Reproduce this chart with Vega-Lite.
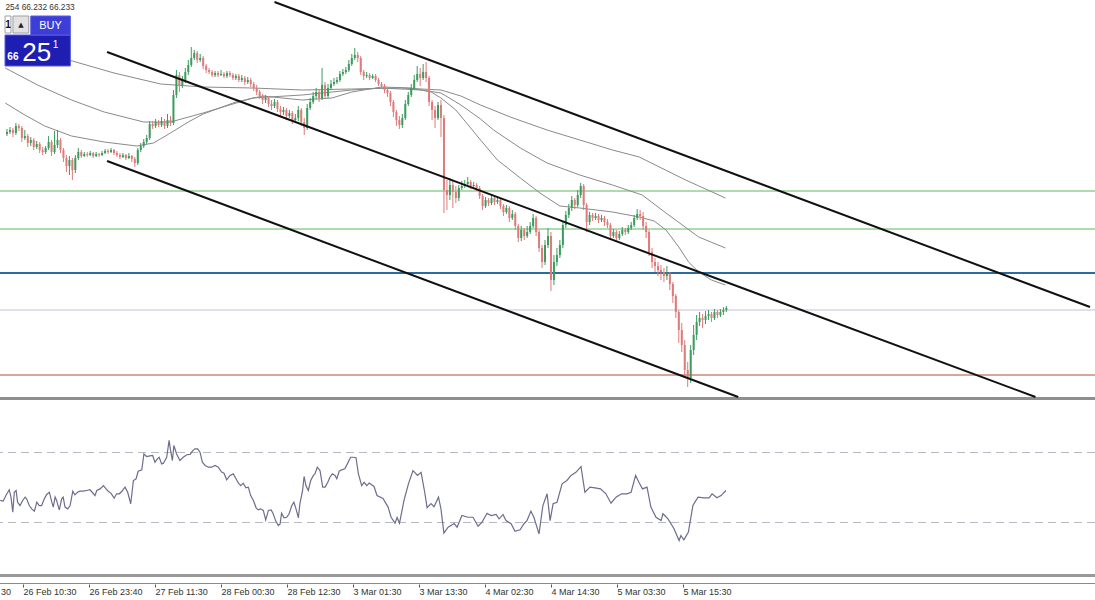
{
"$schema":"https://vega.github.io/schema/vega-lite/v6.json",
"padding":0,
"spacing":0,
"bounds":"flush",
"background":"white",
"config":{"view":{"stroke":null}},
"datasets":{
"candles":[
{"t":0,"o":68.66,"h":68.71,"l":68.64,"c":68.68},{"t":1,"o":68.68,"h":68.73,"l":68.66,"c":68.70},{"t":2,"o":68.70,"h":68.72,"l":68.63,"c":68.67},{"t":3,"o":68.67,"h":68.77,"l":68.65,"c":68.74},{"t":4,"o":68.74,"h":68.76,"l":68.69,"c":68.72},{"t":5,"o":68.72,"h":68.74,"l":68.58,"c":68.62},{"t":6,"o":68.62,"h":68.70,"l":68.60,"c":68.64},{"t":7,"o":68.64,"h":68.66,"l":68.53,"c":68.57},{"t":8,"o":68.57,"h":68.63,"l":68.54,"c":68.60},{"t":9,"o":68.60,"h":68.62,"l":68.50,"c":68.53},
{"t":10,"o":68.53,"h":68.59,"l":68.51,"c":68.56},{"t":11,"o":68.56,"h":68.58,"l":68.47,"c":68.50},{"t":12,"o":68.50,"h":68.53,"l":68.45,"c":68.48},{"t":13,"o":68.48,"h":68.54,"l":68.46,"c":68.52},{"t":14,"o":68.52,"h":68.64,"l":68.50,"c":68.58},{"t":15,"o":68.58,"h":68.60,"l":68.44,"c":68.48},{"t":16,"o":68.48,"h":68.69,"l":68.46,"c":68.55},{"t":17,"o":68.55,"h":68.70,"l":68.52,"c":68.60},{"t":18,"o":68.60,"h":68.62,"l":68.47,"c":68.50},{"t":19,"o":68.50,"h":68.52,"l":68.38,"c":68.42},
{"t":20,"o":68.42,"h":68.45,"l":68.28,"c":68.34},{"t":21,"o":68.34,"h":68.44,"l":68.25,"c":68.40},{"t":22,"o":68.40,"h":68.42,"l":68.20,"c":68.30},{"t":23,"o":68.30,"h":68.45,"l":68.27,"c":68.42},{"t":24,"o":68.42,"h":68.52,"l":68.40,"c":68.48},{"t":25,"o":68.48,"h":68.50,"l":68.42,"c":68.44},{"t":26,"o":68.44,"h":68.48,"l":68.43,"c":68.46},{"t":27,"o":68.46,"h":68.48,"l":68.43,"c":68.45},{"t":28,"o":68.45,"h":68.49,"l":68.44,"c":68.47},{"t":29,"o":68.47,"h":68.48,"l":68.42,"c":68.44},
{"t":30,"o":68.44,"h":68.48,"l":68.43,"c":68.46},{"t":31,"o":68.46,"h":68.47,"l":68.43,"c":68.45},{"t":32,"o":68.45,"h":68.49,"l":68.44,"c":68.47},{"t":33,"o":68.47,"h":68.51,"l":68.46,"c":68.49},{"t":34,"o":68.49,"h":68.51,"l":68.46,"c":68.48},{"t":35,"o":68.48,"h":68.52,"l":68.47,"c":68.50},{"t":36,"o":68.50,"h":68.51,"l":68.45,"c":68.47},{"t":37,"o":68.47,"h":68.49,"l":68.43,"c":68.45},{"t":38,"o":68.45,"h":68.47,"l":68.41,"c":68.43},{"t":39,"o":68.43,"h":68.47,"l":68.42,"c":68.45},
{"t":40,"o":68.45,"h":68.46,"l":68.40,"c":68.42},{"t":41,"o":68.42,"h":68.47,"l":68.41,"c":68.44},{"t":42,"o":68.44,"h":68.45,"l":68.38,"c":68.41},{"t":43,"o":68.41,"h":68.43,"l":68.33,"c":68.37},{"t":44,"o":68.37,"h":68.52,"l":68.35,"c":68.50},{"t":45,"o":68.50,"h":68.57,"l":68.48,"c":68.54},{"t":46,"o":68.54,"h":68.61,"l":68.52,"c":68.58},{"t":47,"o":68.58,"h":68.65,"l":68.56,"c":68.62},{"t":48,"o":68.62,"h":68.79,"l":68.60,"c":68.76},{"t":49,"o":68.76,"h":68.79,"l":68.71,"c":68.74},
{"t":50,"o":68.74,"h":68.81,"l":68.72,"c":68.78},{"t":51,"o":68.78,"h":68.80,"l":68.73,"c":68.75},{"t":52,"o":68.75,"h":68.83,"l":68.73,"c":68.79},{"t":53,"o":68.79,"h":68.81,"l":68.71,"c":68.74},{"t":54,"o":68.74,"h":68.86,"l":68.72,"c":68.80},{"t":55,"o":68.80,"h":68.84,"l":68.74,"c":68.77},{"t":56,"o":68.77,"h":69.10,"l":68.75,"c":69.05},{"t":57,"o":69.05,"h":69.30,"l":69.02,"c":69.25},{"t":58,"o":69.25,"h":69.28,"l":69.08,"c":69.15},{"t":59,"o":69.15,"h":69.24,"l":69.12,"c":69.20},
{"t":60,"o":69.20,"h":69.32,"l":69.17,"c":69.28},{"t":61,"o":69.28,"h":69.40,"l":69.25,"c":69.35},{"t":62,"o":69.35,"h":69.53,"l":69.33,"c":69.42},{"t":63,"o":69.42,"h":69.50,"l":69.40,"c":69.47},{"t":64,"o":69.47,"h":69.49,"l":69.37,"c":69.40},{"t":65,"o":69.40,"h":69.46,"l":69.38,"c":69.42},{"t":66,"o":69.42,"h":69.44,"l":69.31,"c":69.34},{"t":67,"o":69.34,"h":69.36,"l":69.27,"c":69.30},{"t":68,"o":69.30,"h":69.32,"l":69.26,"c":69.28},{"t":69,"o":69.28,"h":69.30,"l":69.23,"c":69.25},
{"t":70,"o":69.25,"h":69.29,"l":69.23,"c":69.27},{"t":71,"o":69.27,"h":69.29,"l":69.23,"c":69.25},{"t":72,"o":69.25,"h":69.30,"l":69.24,"c":69.26},{"t":73,"o":69.26,"h":69.28,"l":69.22,"c":69.24},{"t":74,"o":69.24,"h":69.29,"l":69.22,"c":69.27},{"t":75,"o":69.27,"h":69.29,"l":69.23,"c":69.25},{"t":76,"o":69.25,"h":69.27,"l":69.20,"c":69.22},{"t":77,"o":69.22,"h":69.26,"l":69.20,"c":69.24},{"t":78,"o":69.24,"h":69.26,"l":69.18,"c":69.20},{"t":79,"o":69.20,"h":69.25,"l":69.18,"c":69.22},
{"t":80,"o":69.22,"h":69.24,"l":69.15,"c":69.18},{"t":81,"o":69.18,"h":69.23,"l":69.16,"c":69.20},{"t":82,"o":69.20,"h":69.22,"l":69.13,"c":69.16},{"t":83,"o":69.16,"h":69.18,"l":69.09,"c":69.12},{"t":84,"o":69.12,"h":69.15,"l":69.05,"c":69.08},{"t":85,"o":69.08,"h":69.10,"l":69.01,"c":69.04},{"t":86,"o":69.04,"h":69.06,"l":68.96,"c":69.00},{"t":87,"o":69.00,"h":69.05,"l":68.97,"c":69.02},{"t":88,"o":69.02,"h":69.04,"l":68.93,"c":68.96},{"t":89,"o":68.96,"h":69.00,"l":68.90,"c":68.94},
{"t":90,"o":68.94,"h":69.01,"l":68.92,"c":68.98},{"t":91,"o":68.98,"h":69.00,"l":68.88,"c":68.91},{"t":92,"o":68.91,"h":68.94,"l":68.84,"c":68.88},{"t":93,"o":68.88,"h":68.93,"l":68.85,"c":68.90},{"t":94,"o":68.90,"h":68.92,"l":68.80,"c":68.84},{"t":95,"o":68.84,"h":68.90,"l":68.82,"c":68.87},{"t":96,"o":68.87,"h":68.89,"l":68.76,"c":68.80},{"t":97,"o":68.80,"h":68.86,"l":68.78,"c":68.82},{"t":98,"o":68.82,"h":68.94,"l":68.79,"c":68.90},{"t":99,"o":68.90,"h":68.92,"l":68.74,"c":68.78},
{"t":100,"o":68.78,"h":68.82,"l":68.65,"c":68.72},{"t":101,"o":68.72,"h":68.96,"l":68.70,"c":68.92},{"t":102,"o":68.92,"h":69.02,"l":68.90,"c":68.98},{"t":103,"o":68.98,"h":69.08,"l":68.96,"c":69.04},{"t":104,"o":69.04,"h":69.12,"l":69.01,"c":69.08},{"t":105,"o":69.08,"h":69.10,"l":68.98,"c":69.02},{"t":106,"o":69.02,"h":69.32,"l":69.00,"c":69.15},{"t":107,"o":69.15,"h":69.18,"l":69.01,"c":69.04},{"t":108,"o":69.04,"h":69.16,"l":69.02,"c":69.12},{"t":109,"o":69.12,"h":69.20,"l":69.10,"c":69.16},
{"t":110,"o":69.16,"h":69.22,"l":69.14,"c":69.18},{"t":111,"o":69.18,"h":69.23,"l":69.16,"c":69.20},{"t":112,"o":69.20,"h":69.29,"l":69.18,"c":69.26},{"t":113,"o":69.26,"h":69.31,"l":69.24,"c":69.28},{"t":114,"o":69.28,"h":69.33,"l":69.26,"c":69.30},{"t":115,"o":69.30,"h":69.40,"l":69.28,"c":69.36},{"t":116,"o":69.36,"h":69.46,"l":69.34,"c":69.42},{"t":117,"o":69.42,"h":69.52,"l":69.40,"c":69.45},{"t":118,"o":69.45,"h":69.48,"l":69.38,"c":69.42},{"t":119,"o":69.42,"h":69.44,"l":69.25,"c":69.28},
{"t":120,"o":69.28,"h":69.30,"l":69.20,"c":69.24},{"t":121,"o":69.24,"h":69.28,"l":69.22,"c":69.25},{"t":122,"o":69.25,"h":69.27,"l":69.20,"c":69.22},{"t":123,"o":69.22,"h":69.26,"l":69.21,"c":69.24},{"t":124,"o":69.24,"h":69.26,"l":69.18,"c":69.20},{"t":125,"o":69.20,"h":69.22,"l":69.14,"c":69.16},{"t":126,"o":69.16,"h":69.18,"l":69.11,"c":69.14},{"t":127,"o":69.14,"h":69.16,"l":69.07,"c":69.10},{"t":128,"o":69.10,"h":69.12,"l":69.03,"c":69.07},{"t":129,"o":69.07,"h":69.09,"l":68.94,"c":68.98},
{"t":130,"o":68.98,"h":69.00,"l":68.83,"c":68.88},{"t":131,"o":68.88,"h":68.90,"l":68.74,"c":68.80},{"t":132,"o":68.80,"h":68.84,"l":68.71,"c":68.75},{"t":133,"o":68.75,"h":68.86,"l":68.72,"c":68.82},{"t":134,"o":68.82,"h":69.00,"l":68.80,"c":68.96},{"t":135,"o":68.96,"h":69.08,"l":68.94,"c":69.05},{"t":136,"o":69.05,"h":69.16,"l":69.03,"c":69.12},{"t":137,"o":69.12,"h":69.25,"l":69.10,"c":69.20},{"t":138,"o":69.20,"h":69.34,"l":69.18,"c":69.26},{"t":139,"o":69.26,"h":69.32,"l":69.14,"c":69.22},
{"t":140,"o":69.22,"h":69.36,"l":69.20,"c":69.28},{"t":141,"o":69.28,"h":69.38,"l":69.18,"c":69.22},{"t":142,"o":69.22,"h":69.24,"l":68.94,"c":68.98},{"t":143,"o":68.98,"h":69.00,"l":68.80,"c":68.90},{"t":144,"o":68.90,"h":68.94,"l":68.72,"c":68.82},{"t":145,"o":68.82,"h":68.98,"l":68.80,"c":68.95},{"t":146,"o":68.95,"h":69.00,"l":68.63,"c":68.82},{"t":147,"o":68.82,"h":68.85,"l":67.87,"c":68.10},{"t":148,"o":68.10,"h":68.20,"l":67.90,"c":68.05},{"t":149,"o":68.05,"h":68.22,"l":68.00,"c":68.15},
{"t":150,"o":68.15,"h":68.20,"l":67.92,"c":68.08},{"t":151,"o":68.08,"h":68.14,"l":67.97,"c":68.02},{"t":152,"o":68.02,"h":68.15,"l":67.99,"c":68.12},{"t":153,"o":68.12,"h":68.19,"l":68.10,"c":68.14},{"t":154,"o":68.14,"h":68.20,"l":68.12,"c":68.16},{"t":155,"o":68.16,"h":68.23,"l":68.14,"c":68.18},{"t":156,"o":68.18,"h":68.20,"l":68.11,"c":68.14},{"t":157,"o":68.14,"h":68.18,"l":68.12,"c":68.15},{"t":158,"o":68.15,"h":68.17,"l":68.09,"c":68.12},{"t":159,"o":68.12,"h":68.14,"l":68.01,"c":68.04},
{"t":160,"o":68.04,"h":68.06,"l":67.90,"c":67.94},{"t":161,"o":67.94,"h":68.03,"l":67.92,"c":68.00},{"t":162,"o":68.00,"h":68.02,"l":67.94,"c":67.97},{"t":163,"o":67.97,"h":68.06,"l":67.95,"c":68.02},{"t":164,"o":68.02,"h":68.04,"l":67.95,"c":67.98},{"t":165,"o":67.98,"h":68.04,"l":67.96,"c":68.00},{"t":166,"o":68.00,"h":68.02,"l":67.91,"c":67.94},{"t":167,"o":67.94,"h":67.96,"l":67.84,"c":67.88},{"t":168,"o":67.88,"h":67.95,"l":67.86,"c":67.92},{"t":169,"o":67.92,"h":67.94,"l":67.78,"c":67.82},
{"t":170,"o":67.82,"h":67.90,"l":67.80,"c":67.86},{"t":171,"o":67.86,"h":67.88,"l":67.70,"c":67.74},{"t":172,"o":67.74,"h":67.76,"l":67.58,"c":67.62},{"t":173,"o":67.62,"h":67.74,"l":67.59,"c":67.70},{"t":174,"o":67.70,"h":67.72,"l":67.60,"c":67.64},{"t":175,"o":67.64,"h":67.74,"l":67.62,"c":67.68},{"t":176,"o":67.68,"h":67.78,"l":67.66,"c":67.74},{"t":177,"o":67.74,"h":67.86,"l":67.72,"c":67.82},{"t":178,"o":67.82,"h":67.84,"l":67.64,"c":67.68},{"t":179,"o":67.68,"h":67.70,"l":67.48,"c":67.52},
{"t":180,"o":67.52,"h":67.55,"l":67.32,"c":67.38},{"t":181,"o":67.38,"h":67.60,"l":67.35,"c":67.55},{"t":182,"o":67.55,"h":67.72,"l":67.52,"c":67.64},{"t":183,"o":67.64,"h":67.68,"l":67.09,"c":67.20},{"t":184,"o":67.20,"h":67.45,"l":67.15,"c":67.38},{"t":185,"o":67.38,"h":67.52,"l":67.34,"c":67.45},{"t":186,"o":67.45,"h":67.60,"l":67.42,"c":67.55},{"t":187,"o":67.55,"h":67.78,"l":67.52,"c":67.75},{"t":188,"o":67.75,"h":67.89,"l":67.72,"c":67.85},{"t":189,"o":67.85,"h":67.96,"l":67.82,"c":67.92},
{"t":190,"o":67.92,"h":68.04,"l":67.89,"c":68.00},{"t":191,"o":68.00,"h":68.02,"l":67.91,"c":67.95},{"t":192,"o":67.95,"h":68.10,"l":67.93,"c":68.05},{"t":193,"o":68.05,"h":68.17,"l":68.02,"c":68.14},{"t":194,"o":68.14,"h":68.16,"l":67.90,"c":67.95},{"t":195,"o":67.95,"h":67.97,"l":67.68,"c":67.78},{"t":196,"o":67.78,"h":67.88,"l":67.75,"c":67.85},{"t":197,"o":67.85,"h":67.87,"l":67.79,"c":67.82},{"t":198,"o":67.82,"h":67.87,"l":67.80,"c":67.84},{"t":199,"o":67.84,"h":67.86,"l":67.77,"c":67.80},
{"t":200,"o":67.80,"h":67.85,"l":67.78,"c":67.82},{"t":201,"o":67.82,"h":67.84,"l":67.74,"c":67.78},{"t":202,"o":67.78,"h":67.81,"l":67.72,"c":67.75},{"t":203,"o":67.75,"h":67.77,"l":67.60,"c":67.64},{"t":204,"o":67.64,"h":67.71,"l":67.62,"c":67.68},{"t":205,"o":67.68,"h":67.70,"l":67.58,"c":67.62},{"t":206,"o":67.62,"h":67.69,"l":67.60,"c":67.66},{"t":207,"o":67.66,"h":67.73,"l":67.64,"c":67.70},{"t":208,"o":67.70,"h":67.72,"l":67.65,"c":67.68},{"t":209,"o":67.68,"h":67.75,"l":67.66,"c":67.72},
{"t":210,"o":67.72,"h":67.78,"l":67.70,"c":67.75},{"t":211,"o":67.75,"h":67.85,"l":67.73,"c":67.82},{"t":212,"o":67.82,"h":67.91,"l":67.80,"c":67.86},{"t":213,"o":67.86,"h":67.90,"l":67.80,"c":67.84},{"t":214,"o":67.84,"h":67.88,"l":67.70,"c":67.74},{"t":215,"o":67.74,"h":67.78,"l":67.62,"c":67.68},{"t":216,"o":67.68,"h":67.70,"l":67.44,"c":67.48},{"t":217,"o":67.48,"h":67.52,"l":67.32,"c":67.38},{"t":218,"o":67.38,"h":67.42,"l":67.28,"c":67.34},{"t":219,"o":67.34,"h":67.38,"l":67.24,"c":67.30},
{"t":220,"o":67.30,"h":67.35,"l":67.20,"c":67.28},{"t":221,"o":67.28,"h":67.32,"l":67.18,"c":67.24},{"t":222,"o":67.24,"h":67.34,"l":67.20,"c":67.26},{"t":223,"o":67.26,"h":67.28,"l":67.10,"c":67.16},{"t":224,"o":67.16,"h":67.18,"l":66.97,"c":67.04},{"t":225,"o":67.04,"h":67.06,"l":66.82,"c":66.88},{"t":226,"o":66.88,"h":66.90,"l":66.57,"c":66.70},{"t":227,"o":66.70,"h":66.77,"l":66.48,"c":66.55},{"t":228,"o":66.55,"h":66.60,"l":66.24,"c":66.30},{"t":229,"o":66.30,"h":66.38,"l":66.13,"c":66.22},
{"t":230,"o":66.22,"h":66.55,"l":66.17,"c":66.50},{"t":231,"o":66.50,"h":66.75,"l":66.45,"c":66.65},{"t":232,"o":66.65,"h":66.85,"l":66.60,"c":66.78},{"t":233,"o":66.78,"h":66.88,"l":66.74,"c":66.82},{"t":234,"o":66.82,"h":66.86,"l":66.72,"c":66.80},{"t":235,"o":66.80,"h":66.89,"l":66.76,"c":66.84},{"t":236,"o":66.84,"h":66.90,"l":66.80,"c":66.86},{"t":237,"o":66.86,"h":66.88,"l":66.78,"c":66.82},{"t":238,"o":66.82,"h":66.91,"l":66.80,"c":66.88},{"t":239,"o":66.88,"h":66.90,"l":66.82,"c":66.85},
{"t":240,"o":66.85,"h":66.91,"l":66.83,"c":66.88},{"t":241,"o":66.88,"h":66.93,"l":66.85,"c":66.90},{"t":242,"o":66.90,"h":66.94,"l":66.88,"c":66.92}
],
"ma":[
{"t":-0.6,"p":68.97,"k":"fast"},{"t":6,"p":68.85,"k":"fast"},{"t":12.7,"p":68.74,"k":"fast"},{"t":21.7,"p":68.64,"k":"fast"},{"t":32.7,"p":68.58,"k":"fast"},{"t":43.7,"p":68.54,"k":"fast"},{"t":49.3,"p":68.57,"k":"fast"},{"t":55,"p":68.67,"k":"fast"},{"t":61,"p":68.78,"k":"fast"},{"t":66,"p":68.86,"k":"fast"},{"t":77,"p":68.98,"k":"fast"},{"t":86,"p":69.04,"k":"fast"},{"t":99.3,"p":69.00,"k":"fast"},{"t":109.3,"p":69.02,"k":"fast"},{"t":116,"p":69.08,"k":"fast"},{"t":126,"p":69.13,"k":"fast"},{"t":136,"p":69.12,"k":"fast"},{"t":142.7,"p":69.08,"k":"fast"},{"t":146,"p":69.02,"k":"fast"},{"t":151,"p":68.90,"k":"fast"},{"t":156,"p":68.72,"k":"fast"},{"t":159.3,"p":68.60,"k":"fast"},{"t":165,"p":68.40,"k":"fast"},{"t":172.7,"p":68.22,"k":"fast"},{"t":179.3,"p":68.07,"k":"fast"},{"t":186,"p":67.94,"k":"fast"},{"t":192.7,"p":67.92,"k":"fast"},{"t":203.7,"p":67.88,"k":"fast"},{"t":212.7,"p":67.83,"k":"fast"},{"t":217.7,"p":67.79,"k":"fast"},{"t":221.7,"p":67.70,"k":"fast"},{"t":226,"p":67.53,"k":"fast"},{"t":229.3,"p":67.38,"k":"fast"},{"t":232.7,"p":67.28,"k":"fast"},{"t":237,"p":67.20,"k":"fast"},{"t":241.7,"p":67.15,"k":"fast"},
{"t":-0.6,"p":69.32,"k":"mid"},{"t":10.3,"p":69.15,"k":"mid"},{"t":21.7,"p":69.00,"k":"mid"},{"t":32.7,"p":68.88,"k":"mid"},{"t":46,"p":68.78,"k":"mid"},{"t":55,"p":68.78,"k":"mid"},{"t":66,"p":68.87,"k":"mid"},{"t":82.7,"p":69.02,"k":"mid"},{"t":99.3,"p":69.05,"k":"mid"},{"t":116,"p":69.10,"k":"mid"},{"t":126,"p":69.12,"k":"mid"},{"t":139.3,"p":69.10,"k":"mid"},{"t":146,"p":69.07,"k":"mid"},{"t":152.7,"p":68.95,"k":"mid"},{"t":159.3,"p":68.81,"k":"mid"},{"t":163.7,"p":68.70,"k":"mid"},{"t":172.7,"p":68.52,"k":"mid"},{"t":181.7,"p":68.37,"k":"mid"},{"t":192.7,"p":68.25,"k":"mid"},{"t":203.7,"p":68.15,"k":"mid"},{"t":213.7,"p":68.05,"k":"mid"},{"t":221.7,"p":67.87,"k":"mid"},{"t":232.7,"p":67.63,"k":"mid"},{"t":241.7,"p":67.52,"k":"mid"},
{"t":-0.6,"p":69.52,"k":"slow"},{"t":22,"p":69.39,"k":"slow"},{"t":36,"p":69.27,"k":"slow"},{"t":51.7,"p":69.16,"k":"slow"},{"t":66,"p":69.13,"k":"slow"},{"t":82.7,"p":69.12,"k":"slow"},{"t":99.3,"p":69.10,"k":"slow"},{"t":116,"p":69.11,"k":"slow"},{"t":132.7,"p":69.12,"k":"slow"},{"t":146,"p":69.10,"k":"slow"},{"t":152.7,"p":69.04,"k":"slow"},{"t":159.3,"p":68.95,"k":"slow"},{"t":169.3,"p":68.83,"k":"slow"},{"t":181.7,"p":68.70,"k":"slow"},{"t":192.7,"p":68.60,"k":"slow"},{"t":203.7,"p":68.50,"k":"slow"},{"t":212.7,"p":68.43,"k":"slow"},{"t":228.3,"p":68.20,"k":"slow"},{"t":241.7,"p":68.02,"k":"slow"}
],
"trend":[
{"t":90,"p":69.98,"k":"upper"},{"t":364.3333,"p":66.93,"k":"upper"},
{"t":33.67,"p":69.48,"k":"middle"},{"t":346,"p":66.03,"k":"middle"},
{"t":33.67,"p":68.39,"k":"lower"},{"t":246,"p":66.03,"k":"lower"}
],
"levels":[
{"p":68.09,"k":"s1"},{"p":67.71,"k":"s2"},{"p":67.27,"k":"pv"},{"p":66.90,"k":"cur"},{"p":66.25,"k":"low"}
],
"wbox":[
{"t1":-0.6667,"t2":1.33,"p1":69.84,"p2":69.67,"k":"lot"},
{"t1":2,"t2":7.33,"p1":69.84,"p2":69.67,"k":"btn"},
{"t1":-0.6667,"t2":21.33,"p1":69.65,"p2":69.34,"k":"box"},
{"t1":8,"t2":21.33,"p1":69.84,"p2":69.65,"k":"head"}
],
"wtext":[
{"t":-0.5,"p":69.92,"s":"254 66.232 66.233","k":"top"},
{"t":0.33,"p":69.755,"s":"1","k":"lot"},
{"t":4.67,"p":69.755,"s":"▲","k":"arrow"},
{"t":14.67,"p":69.745,"s":"BUY","k":"buy"},
{"t":2.0,"p":69.43,"s":"66","k":"small"},
{"t":10.0,"p":69.475,"s":"25","k":"big"},
{"t":16.33,"p":69.555,"s":"1","k":"sup"}
],
"rsi":[
{"t":-0.6,"r":42.6},{"t":0.4,"r":42.2},{"t":1.3,"r":45.4},{"t":2.4,"r":48.7},{"t":3.0,"r":44.5},{"t":3.6,"r":35.9},{"t":4.1,"r":47.3},{"t":4.7,"r":48.3},{"t":5.2,"r":41.6},{"t":6.0,"r":39.7},{"t":6.9,"r":42.6},{"t":7.7,"r":44.5},{"t":8.2,"r":43.5},{"t":9.1,"r":39.7},{"t":9.9,"r":37.8},{"t":10.8,"r":36.5},{"t":11.6,"r":41.6},{"t":12.4,"r":39.7},{"t":13.2,"r":39.7},{"t":14.1,"r":43.5},{"t":14.9,"r":46},{"t":15.8,"r":47.3},{"t":16.6,"r":41.6},{"t":17.1,"r":38.8},{"t":17.7,"r":44.5},{"t":18.2,"r":42.6},{"t":19.1,"r":37.2},{"t":19.9,"r":43.5},{"t":20.4,"r":44.5},{"t":21.0,"r":38.8},{"t":21.9,"r":37.8},{"t":22.7,"r":39.7},{"t":23.6,"r":47.9},{"t":24.3,"r":45.8},{"t":25.2,"r":47.3},{"t":26.0,"r":47.9},{"t":27.1,"r":47.9},{"t":28.2,"r":48.3},{"t":29.3,"r":48.7},{"t":30.2,"r":47},{"t":31.0,"r":45.4},{"t":31.6,"r":48.3},{"t":32.7,"r":49.2},{"t":33.8,"r":51.1},{"t":34.7,"r":49.2},{"t":35.4,"r":47.9},{"t":36.3,"r":46.8},{"t":37.4,"r":43.9},{"t":38.2,"r":46.4},{"t":39.1,"r":46.4},{"t":39.9,"r":47.7},{"t":41.0,"r":50.2},{"t":41.9,"r":47.3},{"t":42.9,"r":40.7},{"t":43.8,"r":54},{"t":44.7,"r":55},{"t":45.4,"r":59.3},{"t":46.6,"r":60.1},{"t":47.3,"r":69.2},{"t":48.2,"r":67.7},{"t":49.3,"r":68.1},{"t":50.2,"r":68.3},{"t":51.0,"r":64.5},{"t":51.8,"r":66.4},{"t":52.4,"r":67.3},{"t":53.2,"r":63.5},{"t":53.8,"r":63.9},{"t":54.9,"r":67.3},{"t":55.7,"r":76.9},{"t":56.2,"r":71.1},{"t":56.8,"r":65.4},{"t":57.3,"r":74},{"t":58.2,"r":69.2},{"t":59.3,"r":65.4},{"t":60.4,"r":67.3},{"t":61.6,"r":68.7},{"t":62.7,"r":68.9},{"t":63.6,"r":71.1},{"t":64.3,"r":72.1},{"t":65.2,"r":72.1},{"t":66.0,"r":70.2},{"t":66.8,"r":64.5},{"t":67.7,"r":62.6},{"t":68.8,"r":61.6},{"t":69.9,"r":61.6},{"t":71.0,"r":62.6},{"t":72.1,"r":61.6},{"t":73.2,"r":58.8},{"t":74.0,"r":58.2},{"t":74.9,"r":54.4},{"t":76.0,"r":56.9},{"t":77.1,"r":57.8},{"t":78.0,"r":55},{"t":78.8,"r":52.5},{"t":79.6,"r":51.1},{"t":80.4,"r":52.5},{"t":81.3,"r":49.8},{"t":82.1,"r":50.2},{"t":82.9,"r":45.4},{"t":83.8,"r":42.6},{"t":84.7,"r":38.4},{"t":85.4,"r":37.2},{"t":86.2,"r":37.8},{"t":87.1,"r":36.9},{"t":87.9,"r":31.5},{"t":88.8,"r":36.9},{"t":89.7,"r":37.2},{"t":90.4,"r":35},{"t":91.2,"r":31.1},{"t":92.1,"r":28.3},{"t":92.7,"r":29.2},{"t":93.2,"r":35.3},{"t":94.0,"r":32.7},{"t":94.9,"r":33},{"t":95.7,"r":35},{"t":96.6,"r":39.7},{"t":97.3,"r":41.6},{"t":98.0,"r":37.8},{"t":98.8,"r":32.7},{"t":99.3,"r":40.7},{"t":100.2,"r":48.3},{"t":100.7,"r":56.3},{"t":101.3,"r":51.1},{"t":102.1,"r":48.3},{"t":102.9,"r":54},{"t":103.8,"r":56.9},{"t":104.3,"r":57.8},{"t":105.1,"r":61.6},{"t":106.0,"r":59.7},{"t":106.9,"r":50.2},{"t":107.7,"r":50.2},{"t":108.6,"r":53},{"t":109.3,"r":55.9},{"t":110.1,"r":57.8},{"t":111.0,"r":56.9},{"t":111.6,"r":55},{"t":112.4,"r":59.3},{"t":113.2,"r":60.1},{"t":114.3,"r":60.7},{"t":115.4,"r":64.5},{"t":116.2,"r":67.3},{"t":117.1,"r":67.3},{"t":118.0,"r":67},{"t":118.8,"r":57.8},{"t":119.9,"r":51.1},{"t":120.7,"r":53},{"t":121.6,"r":51.1},{"t":122.4,"r":52.5},{"t":124.0,"r":50.6},{"t":125.0,"r":45.4},{"t":127.0,"r":43.7},{"t":128.7,"r":38.8},{"t":129.7,"r":33},{"t":131.0,"r":29.6},{"t":131.7,"r":32.9},{"t":132.5,"r":29.6},{"t":134.0,"r":42.6},{"t":135.5,"r":52.2},{"t":137.0,"r":59.7},{"t":138.5,"r":56.9},{"t":139.7,"r":58.7},{"t":140.9,"r":47.3},{"t":141.7,"r":38.5},{"t":143.0,"r":40.8},{"t":144.0,"r":39},{"t":145.5,"r":44.5},{"t":146.3,"r":38},{"t":147.3,"r":23.9},{"t":148.7,"r":27.3},{"t":150.7,"r":29.4},{"t":151.7,"r":27.3},{"t":153.3,"r":34},{"t":155.3,"r":33},{"t":157.0,"r":33},{"t":158.7,"r":27.9},{"t":160.0,"r":30.2},{"t":161.7,"r":35.3},{"t":163.0,"r":34},{"t":164.7,"r":34.6},{"t":165.7,"r":32.1},{"t":167.0,"r":34.6},{"t":168.0,"r":31.1},{"t":169.7,"r":29.3},{"t":171.0,"r":25},{"t":172.7,"r":25.8},{"t":174.0,"r":29.3},{"t":175.0,"r":31.1},{"t":176.3,"r":36.5},{"t":177.3,"r":33},{"t":179.0,"r":23.5},{"t":180.3,"r":39.7},{"t":181.7,"r":46.4},{"t":182.7,"r":31.1},{"t":183.7,"r":40.7},{"t":185.0,"r":41.6},{"t":186.7,"r":52.1},{"t":188.3,"r":54},{"t":189.7,"r":56.9},{"t":191.3,"r":58.7},{"t":193.0,"r":62},{"t":194.3,"r":47.3},{"t":196.0,"r":50.2},{"t":197.7,"r":49.8},{"t":199.5,"r":49.2},{"t":201.3,"r":46.4},{"t":203.0,"r":41},{"t":204.7,"r":44.5},{"t":206.5,"r":46.4},{"t":208.3,"r":46.4},{"t":209.7,"r":47.3},{"t":211.2,"r":56.9},{"t":212.3,"r":53},{"t":213.5,"r":49.2},{"t":215.0,"r":50.2},{"t":216.3,"r":38.8},{"t":218.0,"r":33},{"t":219.7,"r":31.1},{"t":220.3,"r":35},{"t":222.0,"r":32.1},{"t":224.0,"r":26.4},{"t":225.7,"r":19.7},{"t":226.3,"r":22.6},{"t":227.3,"r":20.1},{"t":228.8,"r":24.5},{"t":230.3,"r":39.7},{"t":232.0,"r":44.5},{"t":234.0,"r":44.1},{"t":235.7,"r":44.1},{"t":236.7,"r":46.4},{"t":238.3,"r":44.1},{"t":239.7,"r":45.4},{"t":241.3,"r":48.3}
],
"rsilev":[{"r":70},{"r":30}]
},
"vconcat":[
{
"width":1095,"height":400,
"layer":[
{"data":{"name":"levels"},"mark":{"type":"rule","clip":true},
"encoding":{"y":{"field":"p","type":"quantitative","scale":{"domain":[66,70],"nice":false,"zero":false},"axis":null},
"color":{"condition":[{"test":"datum.k=='pv'","value":"#2f6c9c"},{"test":"datum.k=='cur'","value":"#c9bfd8"},{"test":"datum.k=='low'","value":"#b0503a"}],"value":"#5cb85c"},
"strokeWidth":{"condition":{"test":"datum.k=='pv'","value":2},"value":1}}},
{"data":{"values":[{}]},"mark":{"type":"rule","clip":true,"color":"#8f8f8f","strokeWidth":3},
"encoding":{"y":{"datum":66.015,"type":"quantitative","scale":{"domain":[66,70],"nice":false,"zero":false},"axis":null}}},
{"data":{"name":"ma"},"mark":{"type":"line","color":"#8a8a8a","strokeWidth":1,"clip":true},
"encoding":{"x":{"field":"t","type":"quantitative","scale":{"domain":[-0.6667,364.3333],"nice":false,"zero":false},"axis":null},
"y":{"field":"p","type":"quantitative","scale":{"domain":[66,70],"nice":false,"zero":false},"axis":null},
"detail":{"field":"k","type":"nominal"}}},
{"data":{"name":"candles"},"mark":{"type":"rule","strokeWidth":1,"clip":true},
"encoding":{"x":{"field":"t","type":"quantitative","scale":{"domain":[-0.6667,364.3333],"nice":false,"zero":false},"axis":null},
"y":{"field":"h","type":"quantitative","scale":{"domain":[66,70],"nice":false,"zero":false},"axis":null},
"y2":{"field":"l"},
"color":{"condition":{"test":"datum.c >= datum.o","value":"#3b9c5e"},"value":"#de7a7a"}}},
{"data":{"name":"candles"},"mark":{"type":"bar","width":2,"clip":true},
"encoding":{"x":{"field":"t","type":"quantitative","scale":{"domain":[-0.6667,364.3333],"nice":false,"zero":false},"axis":null},
"y":{"field":"o","type":"quantitative","scale":{"domain":[66,70],"nice":false,"zero":false},"axis":null},
"y2":{"field":"c"},
"color":{"condition":{"test":"datum.c >= datum.o","value":"#3b9c5e"},"value":"#de7a7a"}}},
{"data":{"name":"trend"},"mark":{"type":"line","color":"#111111","strokeWidth":2,"clip":true},
"encoding":{"x":{"field":"t","type":"quantitative","scale":{"domain":[-0.6667,364.3333],"nice":false,"zero":false},"axis":null},
"y":{"field":"p","type":"quantitative","scale":{"domain":[66,70],"nice":false,"zero":false},"axis":null},
"detail":{"field":"k","type":"nominal"}}},
{"data":{"name":"wbox"},"mark":{"type":"rect","strokeWidth":1,"clip":true},
"encoding":{"x":{"field":"t1","type":"quantitative","scale":{"domain":[-0.6667,364.3333],"nice":false,"zero":false},"axis":null},
"x2":{"field":"t2"},
"y":{"field":"p1","type":"quantitative","scale":{"domain":[66,70],"nice":false,"zero":false},"axis":null},
"y2":{"field":"p2"},
"fill":{"condition":[{"test":"datum.k=='lot'","value":"#ffffff"},{"test":"datum.k=='btn'","value":"#e2e2e2"},{"test":"datum.k=='head'","value":"#3d3dd8"}],"value":"#1e1eb2"},
"stroke":{"condition":[{"test":"datum.k=='lot'","value":"#a0a0a0"},{"test":"datum.k=='btn'","value":"#a0a0a0"}],"value":"#5b5be0"}}},
{"data":{"name":"wtext"},"transform":[{"filter":"datum.k=='top'"}],"mark":{"type":"text","align":"left","baseline":"middle","font":"Liberation Sans","fontSize":8.3,"color":"#333333"},
"encoding":{"x":{"field":"t","type":"quantitative","scale":{"domain":[-0.6667,364.3333],"nice":false,"zero":false},"axis":null},
"y":{"field":"p","type":"quantitative","scale":{"domain":[66,70],"nice":false,"zero":false},"axis":null},"text":{"field":"s"}}},
{"data":{"name":"wtext"},"transform":[{"filter":"datum.k=='lot'"}],"mark":{"type":"text","align":"center","baseline":"middle","font":"Liberation Sans","fontSize":10,"fontWeight":"bold","color":"#111111"},
"encoding":{"x":{"field":"t","type":"quantitative","scale":{"domain":[-0.6667,364.3333],"nice":false,"zero":false},"axis":null},
"y":{"field":"p","type":"quantitative","scale":{"domain":[66,70],"nice":false,"zero":false},"axis":null},"text":{"field":"s"}}},
{"data":{"name":"wtext"},"transform":[{"filter":"datum.k=='arrow'"}],"mark":{"type":"text","align":"center","baseline":"middle","font":"DejaVu Sans","fontSize":7,"color":"#222222"},
"encoding":{"x":{"field":"t","type":"quantitative","scale":{"domain":[-0.6667,364.3333],"nice":false,"zero":false},"axis":null},
"y":{"field":"p","type":"quantitative","scale":{"domain":[66,70],"nice":false,"zero":false},"axis":null},"text":{"field":"s"}}},
{"data":{"name":"wtext"},"transform":[{"filter":"datum.k=='buy'"}],"mark":{"type":"text","align":"center","baseline":"middle","font":"Liberation Sans","fontSize":11,"color":"#ffffff"},
"encoding":{"x":{"field":"t","type":"quantitative","scale":{"domain":[-0.6667,364.3333],"nice":false,"zero":false},"axis":null},
"y":{"field":"p","type":"quantitative","scale":{"domain":[66,70],"nice":false,"zero":false},"axis":null},"text":{"field":"s"}}},
{"data":{"name":"wtext"},"transform":[{"filter":"datum.k=='small'"}],"mark":{"type":"text","align":"center","baseline":"middle","font":"Liberation Sans","fontSize":10,"fontWeight":"bold","color":"#ffffff"},
"encoding":{"x":{"field":"t","type":"quantitative","scale":{"domain":[-0.6667,364.3333],"nice":false,"zero":false},"axis":null},
"y":{"field":"p","type":"quantitative","scale":{"domain":[66,70],"nice":false,"zero":false},"axis":null},"text":{"field":"s"}}},
{"data":{"name":"wtext"},"transform":[{"filter":"datum.k=='big'"}],"mark":{"type":"text","align":"center","baseline":"middle","font":"Liberation Sans","fontSize":26,"color":"#ffffff"},
"encoding":{"x":{"field":"t","type":"quantitative","scale":{"domain":[-0.6667,364.3333],"nice":false,"zero":false},"axis":null},
"y":{"field":"p","type":"quantitative","scale":{"domain":[66,70],"nice":false,"zero":false},"axis":null},"text":{"field":"s"}}},
{"data":{"name":"wtext"},"transform":[{"filter":"datum.k=='sup'"}],"mark":{"type":"text","align":"center","baseline":"middle","font":"Liberation Sans","fontSize":10,"color":"#ffffff"},
"encoding":{"x":{"field":"t","type":"quantitative","scale":{"domain":[-0.6667,364.3333],"nice":false,"zero":false},"axis":null},
"y":{"field":"p","type":"quantitative","scale":{"domain":[66,70],"nice":false,"zero":false},"axis":null},"text":{"field":"s"}}}
]
},
{
"width":1095,"height":177,
"layer":[
{"data":{"name":"rsilev"},"mark":{"type":"rule","color":"#b8b8c6","strokeWidth":1,"strokeDash":[8,5],"clip":true},
"encoding":{"y":{"field":"r","type":"quantitative","scale":{"domain":[-1.143,100],"nice":false,"zero":false},"axis":null}}},
{"data":{"values":[{}]},"mark":{"type":"rule","clip":true,"color":"#999999","strokeWidth":3},
"encoding":{"y":{"datum":-0.286,"type":"quantitative","scale":{"domain":[-1.143,100],"nice":false,"zero":false},"axis":null}}},
{"data":{"name":"rsi"},"mark":{"type":"line","color":"#6d6d8e","strokeWidth":1.2,"clip":true},
"encoding":{"x":{"field":"t","type":"quantitative","scale":{"domain":[-0.6667,364.3333],"nice":false,"zero":false},"axis":null},
"y":{"field":"r","type":"quantitative","scale":{"domain":[-1.143,100],"nice":false,"zero":false},"axis":null}}}
]
},
{
"width":1095,"height":7,
"layer":[
{"data":{"values":[{}]},"mark":{"type":"rule","clip":true,"color":"#8a8a8a","strokeWidth":1},
"encoding":{"y":{"datum":0.5,"type":"quantitative","scale":{"domain":[0,7],"nice":false,"zero":false},"axis":null}}},
{"data":{"values":[{"t":100}]},
"mark":{"type":"point","opacity":0},
"encoding":{"x":{"field":"t","type":"quantitative","scale":{"domain":[-0.6667,364.3333],"nice":false,"zero":false},
"axis":{"values":[-0.5,7,29,51,73,95,117,139,161,183,205,227],
"labelExpr":"datum.value < 0 ? '30' : datum.value == 7 ? '26 Feb 10:30' : datum.value == 29 ? '26 Feb 23:40' : datum.value == 51 ? '27 Feb 11:30' : datum.value == 73 ? '28 Feb 00:30' : datum.value == 95 ? '28 Feb 12:30' : datum.value == 117 ? '3 Mar 01:30' : datum.value == 139 ? '3 Mar 13:30' : datum.value == 161 ? '4 Mar 02:30' : datum.value == 183 ? '4 Mar 14:30' : datum.value == 205 ? '5 Mar 03:30' : '5 Mar 15:30'",
"labelAlign":"left","labelBaseline":"top","labelPadding":0,"labelFont":"Liberation Sans","labelFontSize":9,"labelColor":"#333333",
"labelFlush":false,"labelOverlap":false,"labelBound":false,
"tickColor":"#555555","tickSize":3,"tickWidth":1,"tickOpacity":{"condition":{"test":"datum.value < 0","value":0},"value":1},
"domain":false,"grid":false,"title":null}}}}
]
}
]
}
